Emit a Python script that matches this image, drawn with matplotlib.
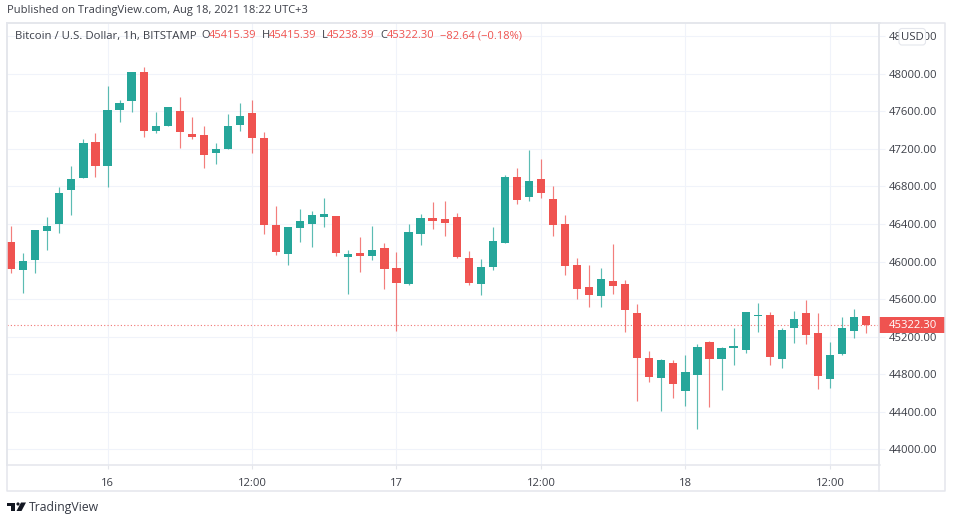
import matplotlib
matplotlib.use('Agg')
import matplotlib.pyplot as plt
from matplotlib.patches import FancyBboxPatch, Polygon, Circle, Rectangle

W, H = 954, 523

# hourly candles, BTC/USD
opens = [46211, 45912, 46012, 46325, 46397, 46759, 46890, 47271, 47021, 47616, 47715, 48018,
         47395, 47442, 47602, 47360, 47349, 47160, 47200, 47452, 47580, 47320, 46392, 46083,
         46354, 46396, 46474, 46485, 46051, 46090, 46062, 46140, 45930, 45760, 46296, 46464,
         46453, 46474, 46037, 45760, 45941, 46194, 46904, 46688, 46877, 46663, 46400, 45959,
         45728, 45629, 45789, 45760, 45454, 44970, 44754, 44920, 44621, 44792, 45141, 44957,
         45077, 45056, 45418, 45426, 44963, 45287, 45454, 45234, 44743, 45013, 45259, 45415.39]
highs = [46378, 46090, 46336, 46474, 46794, 47018, 47303, 47367, 47872, 47722, 48018, 48078,
         47594, 47645, 47755, 47541, 47442, 47260, 47570, 47694, 47722, 47381, 46592, 46371,
         46557, 46541, 46674, 46485, 46119, 46261, 46375, 46200, 46101, 46403, 46506, 46634,
         46645, 46514, 46112, 46023, 46371, 46919, 46994, 47189, 47096, 46805, 46492, 46034,
         45962, 45930, 46183, 45799, 45547, 45045, 44960, 44952, 45002, 45120, 45152, 45085,
         45294, 45464, 45557, 45464, 45290, 45475, 45589, 45447, 45141, 45405, 45496, 45415.39]
lows = [45880, 45664, 45880, 46122, 46307, 46499, 46890, 46898, 46798, 47491, 47594, 47331,
        47374, 47442, 47214, 47310, 47000, 47043, 47200, 47395, 47160, 46296, 46072, 45962,
        46204, 46154, 46365, 46062, 45650, 45891, 46012, 45703, 45255, 45746, 46173, 46343,
        46275, 46034, 45749, 45639, 45912, 46194, 46616, 46648, 46677, 46275, 45859, 45603,
        45518, 45518, 45650, 45245, 44512, 44714, 44408, 44541, 44461, 44210, 44451, 44632,
        44893, 45027, 45248, 44893, 44864, 45127, 45117, 44643, 44654, 45006, 45187, 45238.39]
closes = [45920, 46008, 46332, 46378, 46733, 46877, 47260, 47021, 47613, 47694, 48018, 47395,
          47442, 47645, 47384, 47328, 47139, 47200, 47442, 47552, 47320, 46389, 46104, 46364,
          46432, 46496, 46506, 46090, 46080, 46062, 46122, 45923, 45770, 46311, 46464, 46435,
          46414, 46051, 45770, 45938, 46222, 46898, 46659, 46855, 46727, 46389, 45952, 45710,
          45639, 45810, 45739, 45479, 44974, 44771, 44952, 44693, 44821, 45091, 44957, 45080,
          45102, 45458, 45426, 44984, 45266, 45386, 45216, 44775, 45002, 45294, 45404.94, 45322.30]

price_ticks = [44000, 44400, 44800, 45200, 45600, 46000, 46400, 46800, 47200, 47600, 48000, 48400]
time_ticks = [8, 20, 32, 44, 56, 68]
time_labels = ['16', '12:00', '17', '12:00', '18', '12:00']

UP = '#26a69a'
DOWN = '#ef5350'
GRID = '#f0f3fa'
BORDER = '#e4e6ec'
TEXT = '#3c3f48'
FONT = 'Open Sans'

plt.rcParams['font.family'] = FONT

fig = plt.figure(figsize=(W / 100, H / 100), dpi=100)
ax = fig.add_axes([7.5 / W, 1 - 464.5 / H, 872 / W, 442 / H])
ax.set_xlim(-0.306, 72.12)
ax.set_ylim(43835, 48549)

for t in price_ticks:
    ax.axhline(t, color=GRID, lw=0.8, zorder=0)
for t in time_ticks:
    ax.axvline(t, color=GRID, lw=0.8, zorder=0)

# candles
xs = list(range(len(opens)))
colors = [UP if c >= o else DOWN for o, c in zip(opens, closes)]
ax.vlines(xs, lows, highs, colors=colors, lw=0.85, alpha=0.75, zorder=2)
bottoms = [min(o, c) for o, c in zip(opens, closes)]
heights = [abs(o - c) for o, c in zip(opens, closes)]
ax.bar(xs, heights, bottom=bottoms, width=0.68, color=colors, zorder=3)

# last price line
ax.axhline(closes[-1], color=DOWN, lw=0.8, ls=(0, (1, 2)), alpha=0.8, zorder=1)

ax.set_xticks(time_ticks)
ax.set_xticklabels(time_labels)
ax.yaxis.tick_right()
ax.set_yticks(price_ticks)
ax.set_yticklabels([f'{t:.2f}' for t in price_ticks])
ax.tick_params(axis='x', length=3, width=0.8, color=BORDER, labelsize=8.1, labelcolor=TEXT, pad=7)
ax.tick_params(axis='y', length=4, width=0.8, color=GRID, labelsize=8.1, labelcolor=TEXT, pad=3)
for s in ax.spines.values():
    s.set_color(BORDER)
    s.set_linewidth(1.1)

# last price tag on the price axis
ax.add_patch(Rectangle((1.0, closes[-1] - 90), 65.5 / 872, 180, transform=ax.get_yaxis_transform(),
                       fc=DOWN, ec='none', clip_on=False, zorder=9))
ax.text(1.0 + 9 / 872, closes[-1], f'{closes[-1]:.2f}', transform=ax.get_yaxis_transform(),
        ha='left', va='center', fontsize=8.1, color='white', zorder=10, clip_on=False)

# everything outside the plot, in pixel coordinates
deco = fig.add_axes([0, 0, 1, 1], facecolor='none')
deco.set_xlim(0, W)
deco.set_ylim(H, 0)
deco.axis('off')

deco.plot([7.5, 945.5, 945.5, 7.5, 7.5], [22.5, 22.5, 491, 491, 22.5], color=BORDER, lw=1.1)
deco.plot([879.5, 879.5], [22.5, 491], color=BORDER, lw=1.1)

deco.text(7, 10, 'Published on TradingView.com, Aug 18, 2021 18:22 UTC+3', fontsize=8.0,
          color=TEXT, va='center', ha='left')

deco.text(15, 36, 'Bitcoin / U.S. Dollar, 1h, BITSTAMP', fontsize=8.2, color=TEXT, va='center')
change = closes[-1] - closes[-2]
change_pct = change / closes[-2] * 100
legend_parts = [(201, 'O', TEXT), (209, f'{opens[-1]:.2f}', DOWN),
                (262, 'H', TEXT), (269, f'{highs[-1]:.2f}', DOWN),
                (322, 'L', TEXT), (327, f'{lows[-1]:.2f}', DOWN),
                (380, 'C', TEXT), (387, f'{closes[-1]:.2f}', DOWN),
                (440, f'\u2212{abs(change):.2f} (\u2212{abs(change_pct):.2f}%)', DOWN)]
for x, s, c in legend_parts:
    deco.text(x, 36, s, fontsize=8.0, color=c, va='center', ha='left')

# USD button sits on top of the 48400 label
deco.add_patch(FancyBboxPatch((899, 28.5), 26.5, 16.5, boxstyle='round,pad=0,rounding_size=3',
                              fc='white', ec=BORDER, lw=0.8, zorder=5))
deco.text(912.5, 37, 'USD', fontsize=8.2, color=TEXT, ha='center', va='center', zorder=6)

# logo
LOGO = '#131722'
deco.add_patch(Polygon([(7.5, 502.5), (15.5, 502.5), (15.5, 511), (11.5, 511), (11.5, 505.5), (7.5, 505.5)],
                       fc=LOGO, ec='none'))
deco.add_patch(Circle((18, 504), 1.6, fc=LOGO, ec='none'))
deco.add_patch(Polygon([(21, 502.5), (26, 502.5), (21.5, 511), (16.5, 511)], fc=LOGO, ec='none'))
deco.text(29, 507.5, 'TradingView', fontsize=8.8, color='#363a45', va='center', ha='left')

fig.savefig('out.png', dpi=100)
plt.close(fig)
